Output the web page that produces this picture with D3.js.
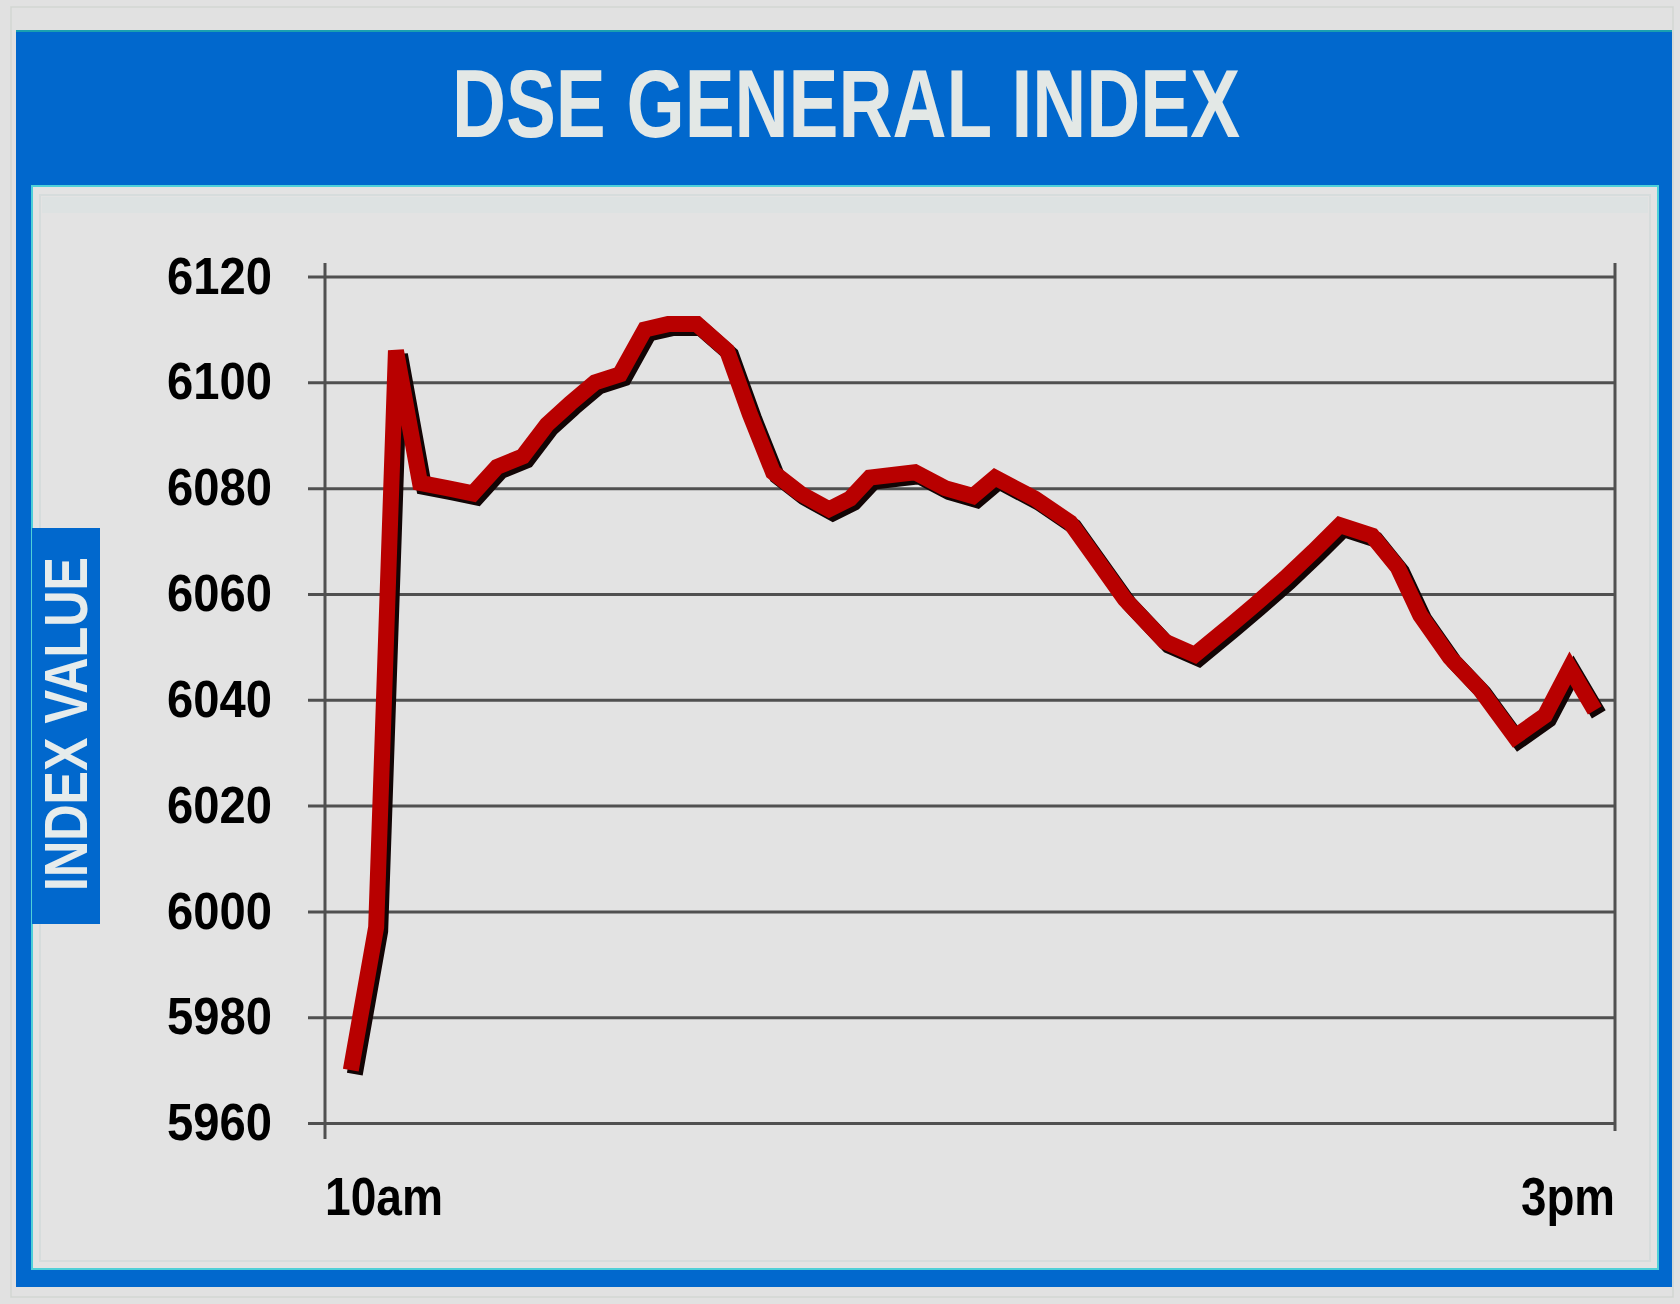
<!DOCTYPE html>
<html>
<head>
<meta charset="utf-8">
<script src="https://cdn.jsdelivr.net/npm/d3@7"></script>
<style>
  html, body { margin: 0; padding: 0; background: #e1e1e1; }
  svg { display: block; }
</style>
</head>
<body>
<svg id="chart" width="1680" height="1304"></svg>
<script>
// ---- data ----
const title = "DSE GENERAL INDEX";
const yAxisTitle = "INDEX VALUE";
// minutes after 10am
const minutes = [6, 11.9, 16.5, 22.1, 28.4, 34.4, 40, 46, 51.6, 57, 62.8, 68.6, 74.4, 79.8, 86.5, 93.5,
  98.8, 104.2, 110.5, 117.2, 122.1, 126.7, 137.2, 144.2, 150.7, 155.8, 165.1, 173.3, 179, 186,
  195.3, 202.3, 210.5, 216.3, 223.3, 229.8, 236, 243.5, 249.5, 254.7, 261.6, 268.6, 276.7, 283.7,
  289.5, 295.3];
const indexValues = [5970, 5997, 6106, 6081, 6080, 6079, 6084, 6086, 6092, 6096, 6100, 6101.5, 6110, 6111, 6111, 6106,
  6094, 6083, 6079, 6076, 6078, 6082, 6083, 6080, 6078.5, 6082, 6078, 6073.5, 6067, 6059,
  6051, 6048.5, 6054, 6058, 6063, 6068, 6073, 6071, 6065, 6056, 6048, 6042, 6033, 6037,
  6046, 6038];
const yTicks = [5960, 5980, 6000, 6020, 6040, 6060, 6080, 6100, 6120];
const xTicks = [0, 300];
const xTickLabels = ["10am", "3pm"];

// ---- drawing ----
const svg = d3.select("#chart");
const FONT = "'Liberation Sans Narrow', 'Liberation Sans', Arial, sans-serif";
const BLUE = "#0168cd";

// background
svg.append("rect").attr("x", 0).attr("y", 0).attr("width", 1680).attr("height", 1304).attr("fill", "#e1e1e1");
svg.append("rect").attr("x", 11).attr("y", 7).attr("width", 1662).attr("height", 1290)
  .attr("fill", "none").attr("stroke", "#d2d6d2").attr("stroke-width", 1.5);

// blue frame
svg.append("rect").attr("x", 16).attr("y", 30).attr("width", 1656).attr("height", 1257).attr("fill", BLUE);
svg.append("line").attr("x1", 16).attr("x2", 1672).attr("y1", 31).attr("y2", 31)
  .attr("stroke", "#1aa0b0").attr("stroke-width", 2);

// inner panel
svg.append("rect").attr("x", 32).attr("y", 186).attr("width", 1626).attr("height", 1083)
  .attr("fill", "#e3e3e3").attr("stroke", "#4fd0d8").attr("stroke-width", 2);
svg.append("rect").attr("x", 40).attr("y", 195).attr("width", 1610).attr("height", 1066)
  .attr("fill", "none").attr("stroke", "#d6dcdc").attr("stroke-width", 2);
svg.append("rect").attr("x", 42).attr("y", 197).attr("width", 1606).attr("height", 16)
  .attr("fill", "#dde2e2");

// title
svg.append("text")
  .attr("x", 452).attr("y", 137)
  .attr("font-family", FONT).attr("font-weight", "bold").attr("font-size", 96)
  .attr("textLength", 788).attr("lengthAdjust", "spacingAndGlyphs")
  .attr("fill", "#e3e8e6")
  .text(title);

// y axis title box
svg.append("rect").attr("x", 32).attr("y", 528).attr("width", 68).attr("height", 396).attr("fill", BLUE);
svg.append("text")
  .attr("transform", "translate(87,891) rotate(-90)")
  .attr("font-family", FONT).attr("font-weight", "bold").attr("font-size", 62)
  .attr("textLength", 334).attr("lengthAdjust", "spacingAndGlyphs")
  .attr("fill", "#e6ecec")
  .text(yAxisTitle);

// scales
const x = d3.scaleLinear().domain([0, 300]).range([325, 1615]);
const y = d3.scaleLinear().domain([5960, 6120]).range([1123, 276.5]);

// grid + y labels via axis
const gridLeft = 308;
const yAxis = d3.axisLeft(y)
  .tickValues(yTicks)
  .tickFormat(d3.format("d"))
  .tickSizeInner(-(x.range()[1] - gridLeft))
  .tickSizeOuter(0)
  .tickPadding(36);
const gy = svg.append("g").attr("transform", `translate(${gridLeft},0)`).call(yAxis);
gy.select(".domain").remove();
gy.selectAll(".tick line").attr("stroke", "#505050").attr("stroke-width", 3);
gy.selectAll(".tick text")
  .attr("font-family", FONT).attr("font-weight", "bold").attr("font-size", 52)
  .attr("fill", "#000")
  .attr("textLength", 105).attr("lengthAdjust", "spacingAndGlyphs");

// vertical axis lines
svg.append("line").attr("x1", x(0)).attr("x2", x(0)).attr("y1", 263).attr("y2", 1139)
  .attr("stroke", "#505050").attr("stroke-width", 3);
svg.append("line").attr("x1", x(300)).attr("x2", x(300)).attr("y1", 263).attr("y2", 1131)
  .attr("stroke", "#505050").attr("stroke-width", 3);

// x labels
svg.selectAll("text.xlab").data(xTicks).enter().append("text")
  .attr("class", "xlab")
  .attr("x", d => x(d))
  .attr("y", 1215)
  .attr("text-anchor", (d, i) => i === 0 ? "start" : "end")
  .attr("font-family", FONT).attr("font-weight", "bold").attr("font-size", 54)
  .attr("fill", "#000")
  .attr("textLength", (d, i) => i === 0 ? 118 : 94)
  .attr("lengthAdjust", "spacingAndGlyphs")
  .text((d, i) => xTickLabels[i]);

// line
const pts = minutes.map((m, i) => [m, indexValues[i]]);
const line = d3.line().x(d => x(d[0])).y(d => y(d[1])).curve(d3.curveLinear);
svg.append("path").datum(pts)
  .attr("d", line)
  .attr("transform", "translate(4,4)")
  .attr("fill", "none").attr("stroke", "#120505").attr("stroke-width", 16)
  .attr("stroke-linejoin", "miter");
svg.append("path").datum(pts)
  .attr("d", line)
  .attr("fill", "none").attr("stroke", "#b80000").attr("stroke-width", 16)
  .attr("stroke-linejoin", "miter");
</script>
</body>
</html>
